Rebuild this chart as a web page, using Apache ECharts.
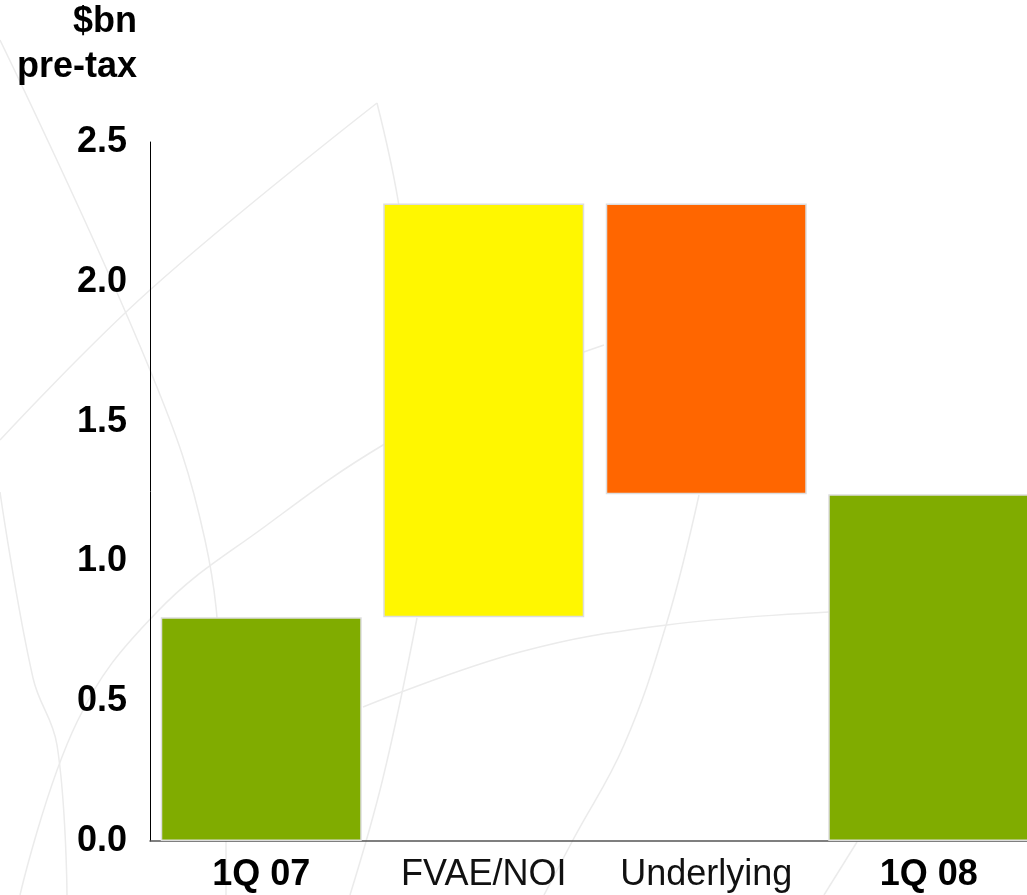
<!DOCTYPE html>
<html>
<head>
<meta charset="utf-8">
<script src="https://cdn.jsdelivr.net/npm/echarts@6/dist/echarts.min.js"></script>
<style>
  html, body { margin: 0; padding: 0; background: #ffffff; overflow: hidden; }
  /* the plot runs slightly past the right edge of the page */
  #chart { width: 1040px; height: 895px; }
</style>
</head>
<body>
<div id="chart"></div>
<script>
// Profit bridge, $bn pre-tax
const categories = ['1Q 07', 'FVAE/NOI', 'Underlying', '1Q 08'];
const barLow  = [0.00, 0.80, 1.24, 0.00];   // bottom of each floating bar
const barHigh = [0.80, 2.28, 2.28, 1.24];   // top of each floating bar
const barColors = ['#80ac00', '#fff700', '#ff6600', '#80ac00'];
const boldCategory = [true, false, false, true];
const yTicks = [0, 0.5, 1.0, 1.5, 2.0, 2.5];

const FONT = '"Liberation Sans", Arial, sans-serif';

// faint decorative background arcs
const arcs = [
  [[0, 40], [150, 370], [205, 540], [222, 700], [226, 895]],
  [[0, 440], [150, 290], [377, 103]],
  [[377, 103], [398, 200], [410, 300]],
  [[20, 895], [77, 722], [157, 612], [267, 525], [383, 445], [500, 385], [604, 345]],
  [[0, 492], [33, 678], [57, 745], [67, 895]],
  [[363, 707], [520, 652], [667, 625], [829, 612]],
  [[417, 618], [383, 778], [350, 895]],
  [[699, 495], [667, 622], [624, 745], [574, 838], [544, 895]],
  [[857, 842], [824, 895]]
];

const chart = echarts.init(document.getElementById('chart'), null, { renderer: 'canvas' });

const option = {
  backgroundColor: '#ffffff',
  animation: false,
  grid: { left: 150, right: 0, top: 142, bottom: 54, containLabel: false },
  graphic: [
    ...arcs.map(pts => ({
      type: 'polyline',
      z: -10,
      silent: true,
      shape: { points: pts, smooth: 0.4 },
      style: { stroke: '#ebebeb', lineWidth: 1.5, fill: null }
    })),
    {
      type: 'text',
      z: 10,
      x: 137,
      y: 0,
      style: {
        text: '$bn\npre-tax',
        align: 'right',
        verticalAlign: 'top',
        font: 'bold 36px ' + FONT,
        lineHeight: 45,
        fill: '#000000'
      }
    }
  ],
  xAxis: {
    type: 'category',
    data: categories,
    axisLine: { show: true, lineStyle: { color: '#555555', width: 1.5 } },
    axisTick: { show: false },
    splitLine: { show: false },
    axisLabel: {
      margin: 16,
      interval: 0,
      formatter: (v, i) => (boldCategory[i] ? '{b|' + v + '}' : '{n|' + v + '}'),
      rich: {
        b: { fontFamily: FONT, fontSize: 36, fontWeight: 'bold', color: '#000000', lineHeight: 36 },
        n: { fontFamily: FONT, fontSize: 36, fontWeight: 'normal', color: '#111111', lineHeight: 36 }
      }
    }
  },
  yAxis: {
    type: 'value',
    min: 0,
    max: 2.5,
    interval: 0.5,
    axisLine: { show: true, lineStyle: { color: '#000000', width: 1 } },
    axisTick: { show: false },
    splitLine: { show: false },
    axisLabel: {
      margin: 23,
      fontFamily: FONT,
      fontSize: 36,
      fontWeight: 'bold',
      color: '#000000',
      padding: [0, 0, 6, 0],
      formatter: v => (yTicks.some(t => Math.abs(t - v) < 1e-9) ? v.toFixed(1) : '')
    }
  },
  series: [
    {
      name: 'base',
      type: 'bar',
      stack: 'bridge',
      barWidth: 201,
      silent: true,
      itemStyle: { color: 'transparent', borderWidth: 0 },
      data: barLow
    },
    {
      name: 'value',
      type: 'bar',
      stack: 'bridge',
      barWidth: 201,
      data: barHigh.map((h, i) => ({
        value: +(h - barLow[i]).toFixed(4),
        itemStyle: { color: barColors[i], borderColor: '#dddddd', borderWidth: 1.5 }
      }))
    }
  ]
};

chart.setOption(option);
</script>
</body>
</html>
